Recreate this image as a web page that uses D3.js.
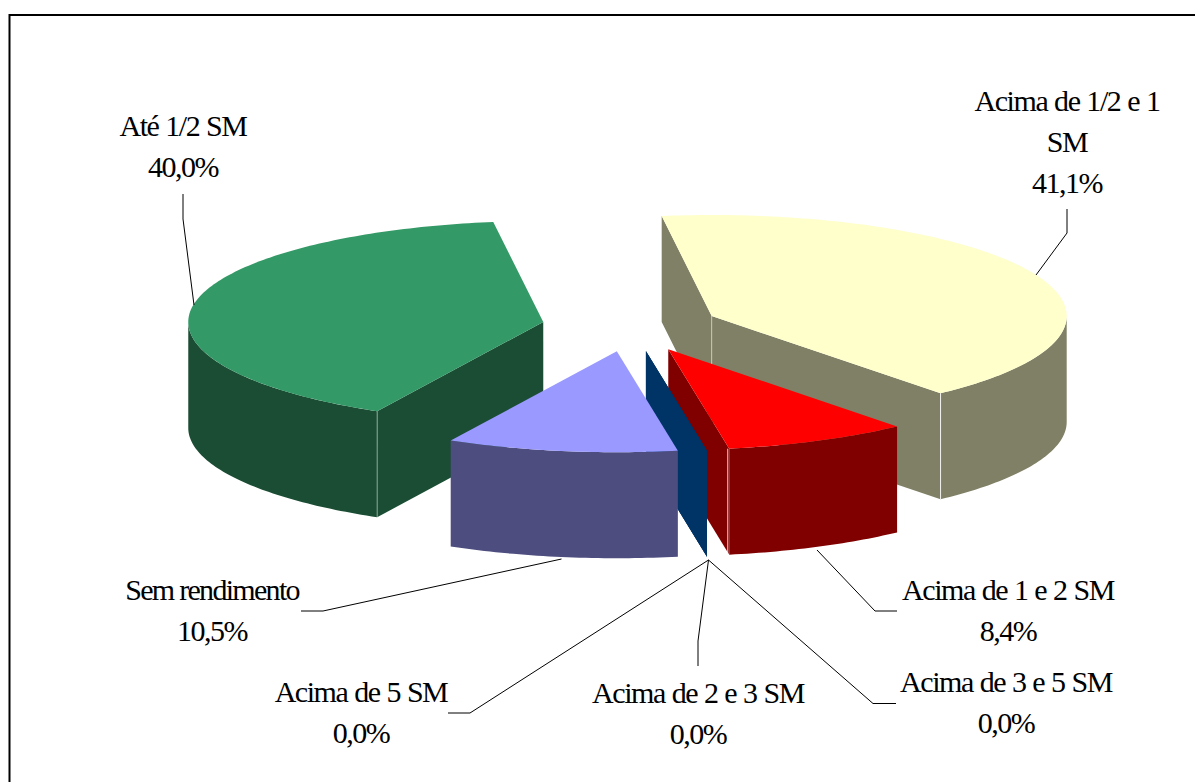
<!DOCTYPE html>
<html><head><meta charset="utf-8">
<style>html,body{margin:0;padding:0;background:#fff}svg{display:block}
text{font-family:"Liberation Serif","Times New Roman",serif;font-size:30px;fill:#000;text-anchor:middle;letter-spacing:-1.45px;word-spacing:0.8px}</style>
<script src="https://cdn.jsdelivr.net/npm/d3@7"></script></head><body>
<script>
const categories=["Acima de 1/2 e 1 SM","Acima de 1 e 2 SM","Acima de 2 e 3 SM","Acima de 3 e 5 SM","Acima de 5 SM","Sem rendimento","Até 1/2 SM"];
const values=[41.1,8.4,0,0,0,10.5,40.0];
const valueLabels=["41,1%","8,4%","0,0%","0,0%","0,0%","10,5%","40,0%"];
const topColors=["#ffffcc","#ff0000","#003366","#003366","#003366","#9999ff","#339966"];
const sideColors=["#808066","#800000","#003366","#003366","#003366","#4d4d80","#1a4d33"];
const labelLines=[["Acima de 1/2 e 1","SM","41,1%"],["Acima de 1 e 2 SM","8,4%"],["Acima de 2 e 3 SM","0,0%"],["Acima de 3 e 5 SM","0,0%"],["Acima de 5 SM","0,0%"],["Sem rendimento","10,5%"],["Até 1/2 SM","40,0%"]];

// layout (separate from the data)
const W=1195,H=782,CX=630.7,CY=326.3,RX=355,RY=101,DEPTH=106,EXPLODE=0.25,START=-8.1;
const drawOrder=[0,6,1,2,3,4,5];
const labelPos=[[1067,111],[1008,600],[698,703],[1006,692],[361,702],[212,600],[183,136]];
const lineGap=41;
const leaders=[
 [[1036,275],[1067,233],[1067,209]],
 [[817,550],[875,611],[897,611]],
 [[708.5,560],[698,641],[698,666]],
 [[708.5,560],[873,703.5],[896,703.5]],
 [[708.5,560],[470,713],[448,713]],
 [[561.5,559],[323,611],[301,611]],
 [[194,305],[183,219],[183,194]]
];

const svg=d3.select("body").append("svg").attr("width",W).attr("height",H);
svg.append("path").attr("d",d3.line()([[9.5,H],[9.5,15],[W,15]])).attr("fill","none").attr("stroke","#000").attr("stroke-width",2);

const rad=d=>d*Math.PI/180;
const pie=d3.pie().sort(null).value(d=>d).startAngle(rad(START)).endAngle(rad(START+360));
const arcs=pie(values);
const sx=d3.scaleLinear().domain([-1,1]).range([CX-RX,CX+RX]);
const sy=d3.scaleLinear().domain([-1,1]).range([CY-RY,CY+RY]);
const line=d3.line();
function project(a,mid,r,drop){
  return [sx(EXPLODE*Math.sin(mid)+r*Math.sin(a)), sy(-EXPLODE*Math.cos(mid)-r*Math.cos(a))+drop];
}
function arcPts(a0,a1,mid,drop){
  const n=Math.max(2,Math.ceil(Math.abs(a1-a0)/rad(1)));
  return d3.range(n+1).map(i=>project(a0+(a1-a0)*i/n,mid,1,drop));
}
const g=svg.append("g");
drawOrder.forEach(i=>{
  const d=arcs[i],a0=d.startAngle,a1=d.endAngle,mid=(a0+a1)/2;
  const slice=g.append("g").attr("class","slice");
  const apex=project(0,mid,0,0),apexB=project(0,mid,0,DEPTH);
  const cut=a=>{
    const p=project(a,mid,1,0),q=project(a,mid,1,DEPTH);
    slice.append("path").attr("d",line([apex,p,q,apexB])+"Z").attr("fill",sideColors[i]);
  };
  if(Math.sin(a0)<0&&a1>a0) cut(a0);
  if(Math.sin(a1)>0) cut(a1);
  // outer rim, front half only
  const r0=Math.max(a0,rad(90)),r1=Math.min(a1,rad(270));
  if(r1>r0&&a1>a0){
    const top=arcPts(r0,r1,mid,0),bot=arcPts(r1,r0,mid,DEPTH);
    slice.append("path").attr("d",line(top.concat(bot))+"Z").attr("fill",sideColors[i]);
  }
  if(a1>a0){
    slice.append("path").attr("d",line([apex].concat(arcPts(a0,a1,mid,0)))+"Z").attr("fill",topColors[i]);
    // pale seam where a visible cut meets the rim
    const seamA=(Math.sin(a1)>0)?a1:(Math.sin(a0)<0?a0:null);
    if(seamA!==null&&r1>r0){
      const p=project(seamA,mid,1,0),q=project(seamA,mid,1,DEPTH);
      const off=Math.sin(a1)>0&&values[i]<10?-1.5:0;
      const strong=values[i]<10||Math.sin(a1)>0;
      slice.append("path").attr("d",line([[p[0]+off,p[1]],[q[0]+off,q[1]]])).attr("stroke","#fff").attr("stroke-width",1).attr("stroke-opacity",strong?.85:.45);
    }
    if(Math.sin(a0)<0&&Math.sin(a1)>0){
      slice.append("path").attr("d",line([apex,apexB])).attr("stroke","#fff").attr("stroke-width",1).attr("stroke-opacity",.45);
    }
  }
});

svg.append("g").selectAll("path").data(leaders).join("path")
  .attr("d",d=>line(d)).attr("fill","none").attr("stroke","#000").attr("stroke-width",1);

const lab=svg.append("g").selectAll("text").data(labelLines).join("text")
  .attr("transform",(d,i)=>`translate(${labelPos[i][0]},${labelPos[i][1]})`);
lab.selectAll("tspan").data(d=>d).join("tspan").attr("x",0).attr("y",(d,i)=>i*lineGap)
  .style("letter-spacing",d=>d==="Sem rendimento"?"-1.7px":null)
  .style("word-spacing",d=>d==="Sem rendimento"?"0px":null).text(d=>d);
</script></body></html>
